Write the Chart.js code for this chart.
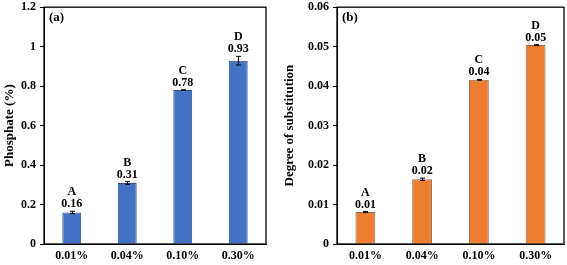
<!DOCTYPE html>
<html><head><meta charset="utf-8">
<script src="https://cdn.jsdelivr.net/npm/chart.js@4/dist/chart.umd.min.js"></script>
<style>
html,body{margin:0;padding:0;background:#fff;}
#wrap{position:relative;width:567px;height:265px;overflow:hidden;}
#c1w{position:absolute;left:0;top:-4px;width:280px;height:269px;}
#c2w{position:absolute;left:280px;top:-4px;width:287px;height:269px;}
</style></head>
<body><div id="wrap"><div id="c1w"><canvas id="c1"></canvas></div><div id="c2w"><canvas id="c2"></canvas></div></div>
<script>
const categories = ['0.01%', '0.04%', '0.10%', '0.30%'];
const letters = ['A', 'B', 'C', 'D'];
const phosphate = [0.16, 0.309, 0.78, 0.929];
const phosphateErr = [0.006, 0.007, 0.002, 0.022];
const phosphateLabels = ['0.16', '0.31', '0.78', '0.93'];
const phosphateTicks = [0, 0.2, 0.4, 0.6, 0.8, 1, 1.2];
const ds = [0.0081, 0.0164, 0.0416, 0.0504];
const dsErr = [0.0001, 0.0003, 0.0001, 0.0001];
const dsLabels = ['0.01', '0.02', '0.04', '0.05'];
const dsTicks = [0, 0.01, 0.02, 0.03, 0.04, 0.05, 0.06];

const FONT = "'Liberation Serif', 'Times New Roman', serif";

const extras = {
  id: 'extras',
  afterDatasetsDraw(chart, args, opts) {
    const ctx = chart.ctx;
    const ys = chart.scales.y;
    const meta = chart.getDatasetMeta(0);
    const data = chart.data.datasets[0].data;
    ctx.save();
    ctx.strokeStyle = '#000';
    ctx.lineWidth = 1;
    meta.data.forEach((bar, i) => {
      const v = data[i], e = opts.err[i];
      const yt = ys.getPixelForValue(v + e), yb = ys.getPixelForValue(v - e);
      const x = Math.round(bar.x) + 0.5;
      ctx.beginPath();
      ctx.moveTo(x, yt); ctx.lineTo(x, yb);
      ctx.moveTo(x - 2.5, yt); ctx.lineTo(x + 2.5, yt);
      ctx.moveTo(x - 2.5, yb); ctx.lineTo(x + 2.5, yb);
      ctx.stroke();
      ctx.fillStyle = '#000';
      ctx.font = 'bold 12px ' + FONT;
      ctx.textAlign = 'center';
      ctx.textBaseline = 'alphabetic';
      const base = yt - 4;
      ctx.fillText(opts.labels[i], bar.x, base);
      ctx.fillText(letters[i], bar.x, base - 12);
    });
    const a = chart.chartArea;
    ctx.strokeStyle = '#000';
    ctx.lineWidth = 1.3;
    ctx.strokeRect(a.left, a.top, a.right - a.left, a.bottom - a.top);
    ctx.font = 'bold 13px ' + FONT;
    ctx.textAlign = 'left';
    ctx.textBaseline = 'middle';
    ctx.fillText(opts.panel, a.left + 5, a.top + 10);
    ctx.restore();
  }
};

function makeChart(id, values, err, labels, ticks, color, border, title, panel, yWidth, padRight, pct) {
  return new Chart(document.getElementById(id), {
    type: 'bar',
    data: { labels: categories, datasets: [{ data: values, backgroundColor: color, borderColor: border, borderWidth: 1, barPercentage: pct, categoryPercentage: 1 }] },
    options: {
      responsive: true, maintainAspectRatio: false, animation: false,
      layout: { padding: { left: 0, right: padRight, top: 6, bottom: 0 } },
      plugins: { legend: { display: false }, tooltip: { enabled: false },
        extras: { err: err, labels: labels, panel: panel } },
      scales: {
        x: {
          grid: { display: false, drawTicks: false },
          border: { display: true, color: '#000', width: 1 },
          ticks: { color: '#000', font: { family: FONT, weight: 'bold', size: 12 }, padding: 5 },
          afterFit: s => { s.height = 21; }
        },
        y: {
          min: ticks[0], max: ticks[ticks.length - 1],
          afterBuildTicks: s => { s.ticks = ticks.map(v => ({ value: v })); },
          grid: { display: true, drawOnChartArea: false, drawTicks: true, tickLength: 4, color: '#000' },
          border: { display: true, color: '#000', width: 1 },
          ticks: { color: '#000', font: { family: FONT, weight: 'bold', size: 12 }, padding: 4,
            callback: v => String(Math.round(v * 1000) / 1000) },
          title: { display: true, text: title, color: '#000', font: { family: FONT, weight: 'bold', size: 13 }, padding: { top: 2, bottom: 0 } },
          afterFit: s => { s.width = yWidth; }
        }
      }
    },
    plugins: [extras]
  });
}

makeChart('c1', phosphate, phosphateErr, phosphateLabels, phosphateTicks, '#4472C4', '#2f4f86', 'Phosphate (%)', '(a)', 44, 14, 0.34);
makeChart('c2', ds, dsErr, dsLabels, dsTicks, '#ED7D31', '#8a6a55', 'Degree of substitution', '(b)', 57, 3, 0.35);
</script></body></html>
